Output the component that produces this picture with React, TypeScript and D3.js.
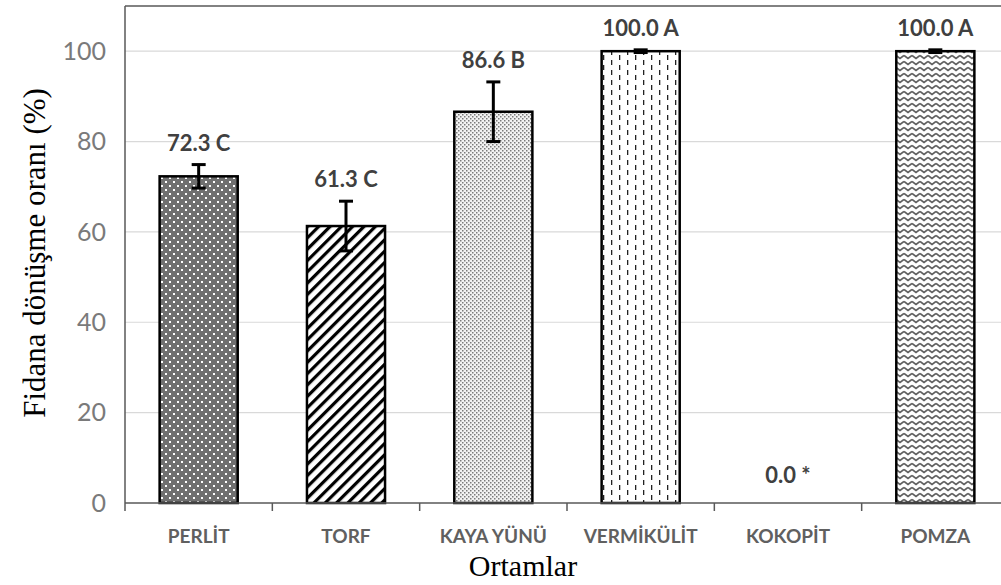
import React from 'react';
import * as d3 from 'd3';

const categories = ['PERLİT', 'TORF', 'KAYA YÜNÜ', 'VERMİKÜLİT', 'KOKOPİT', 'POMZA'];
const values = [72.3, 61.3, 86.6, 100.0, 0.0, 100.0];
const errors = [2.6, 5.5, 6.6, 0.3, 0, 0.3];
const letters = ['C', 'C', 'B', 'A', '*', 'A'];
const patterns = ['perlit', 'torf', 'kaya', 'vermi', 'none', 'pomza'];
const yTicks = [0, 20, 40, 60, 80, 100];

const W = 1001;
const H = 585;
const margin = { top: 6, right: -8, bottom: 82, left: 125 };

const App = () => {
  const x = d3.scaleBand()
    .domain(categories)
    .range([margin.left, W - margin.right])
    .paddingInner(0.47)
    .paddingOuter(0.235);

  const y = d3.scaleLinear()
    .domain([0, 110])
    .range([H - margin.bottom, margin.top]);

  const step = x.step();
  const bounds = d3.range(categories.length + 1).map(i => margin.left + i * step);
  const labelFont = 'Lato, "Open Sans", sans-serif';

  return (
    <svg width={W} height={H} style={{ position: 'absolute', left: 0, top: 0, background: '#fff' }}>
      <defs>
        <pattern id="perlit" width="8" height="8" patternUnits="userSpaceOnUse">
          <rect width="8" height="8" fill="#707070" />
          <rect x="1" y="1" width="2" height="2" fill="#fff" />
          <rect x="5" y="5" width="2" height="2" fill="#fff" />
        </pattern>
        <pattern id="torf" width="8" height="8" patternUnits="userSpaceOnUse" patternTransform="rotate(45)">
          <rect width="8" height="8" fill="#fff" />
          <rect x="0" y="0" width="3.2" height="8" fill="#000" />
        </pattern>
        <pattern id="kaya" width="4" height="4" patternUnits="userSpaceOnUse">
          <rect width="4" height="4" fill="#f2f2f2" />
          <rect x="0" y="0" width="1.5" height="1.5" fill="#7a7a7a" />
          <rect x="2" y="2" width="1.5" height="1.5" fill="#7a7a7a" />
        </pattern>
        <pattern id="vermi" width="16" height="10" patternUnits="userSpaceOnUse">
          <rect width="16" height="10" fill="#fff" />
          <rect x="3" y="0" width="1.3" height="5" fill="#222" />
          <rect x="11" y="5" width="1.3" height="5" fill="#222" />
        </pattern>
        <pattern id="pomza" width="8" height="6" patternUnits="userSpaceOnUse">
          <rect width="8" height="6" fill="#fff" />
          <path d="M0,1.5 L4,4.5 L8,1.5" fill="none" stroke="#606060" strokeWidth="1.7" />
        </pattern>
      </defs>

      {/* gridlines */}
      {yTicks.filter(t => t > 0).map(t => (
        <line key={t} x1={margin.left} x2={W} y1={y(t)} y2={y(t)} stroke="#d9d9d9" strokeWidth={1.2} />
      ))}
      {/* top border */}
      <line x1={margin.left} x2={W} y1={y(110)} y2={y(110)} stroke="#595959" strokeWidth={1.5} />

      {/* bars */}
      {categories.map((c, i) => values[i] > 0 && (
        <rect
          key={c}
          x={x(c)}
          y={y(values[i])}
          width={x.bandwidth()}
          height={y(0) - y(values[i])}
          fill={`url(#${patterns[i]})`}
          stroke="#000"
          strokeWidth={2.5}
        />
      ))}

      {/* error bars */}
      {categories.map((c, i) => {
        if (values[i] <= 0) return null;
        const cx = x(c) + x.bandwidth() / 2;
        const hi = y(values[i] + errors[i]);
        const lo = y(values[i] - errors[i]);
        return (
          <g key={c} stroke="#000" strokeWidth={3}>
            <line x1={cx} x2={cx} y1={hi} y2={lo} />
            <line x1={cx - 7} x2={cx + 7} y1={hi} y2={hi} />
            <line x1={cx - 7} x2={cx + 7} y1={lo} y2={lo} />
          </g>
        );
      })}

      {/* data labels */}
      {categories.map((c, i) => (
        <text
          key={c}
          x={x(c) + x.bandwidth() / 2}
          y={y(values[i] + errors[i]) - (values[i] > 0 ? 14 : 20)}
          textAnchor="middle"
          fontFamily={labelFont}
          fontWeight="bold"
          fontSize={22}
          fill="#404040"
        >
          {`${values[i].toFixed(1)} ${letters[i]}`}
        </text>
      ))}

      {/* y axis */}
      <line x1={margin.left} x2={margin.left} y1={y(110)} y2={y(0)} stroke="#595959" strokeWidth={1.5} />
      {yTicks.map(t => (
        <text key={t} x={margin.left - 19} y={y(t)} dy="0.35em" textAnchor="end"
          fontFamily={labelFont} fontSize={25} fill="#7a7a7a">
          {t}
        </text>
      ))}

      {/* x axis */}
      <line x1={margin.left} x2={W} y1={y(0)} y2={y(0)} stroke="#595959" strokeWidth={1.5} />
      {bounds.map((b, i) => (
        <line key={i} x1={b} x2={b} y1={y(0)} y2={y(0) + 8} stroke="#595959" strokeWidth={1.5} />
      ))}
      {categories.map(c => (
        <text key={c} x={x(c) + x.bandwidth() / 2} y={543} textAnchor="middle"
          fontFamily={labelFont} fontWeight="bold" fontSize={19} fill="#606060">
          {c}
        </text>
      ))}

      {/* axis titles */}
      <text x={523} y={576} textAnchor="middle" fontFamily='"Liberation Serif", "Times New Roman", serif'
        fontSize={30} fill="#000">
        Ortamlar
      </text>
      <text transform={`translate(45,253) rotate(-90)`} textAnchor="middle"
        fontFamily='"Liberation Serif", "Times New Roman", serif' fontSize={31} fill="#000">
        Fidana dönüşme oranı (%)
      </text>
    </svg>
  );
};

export default App;
